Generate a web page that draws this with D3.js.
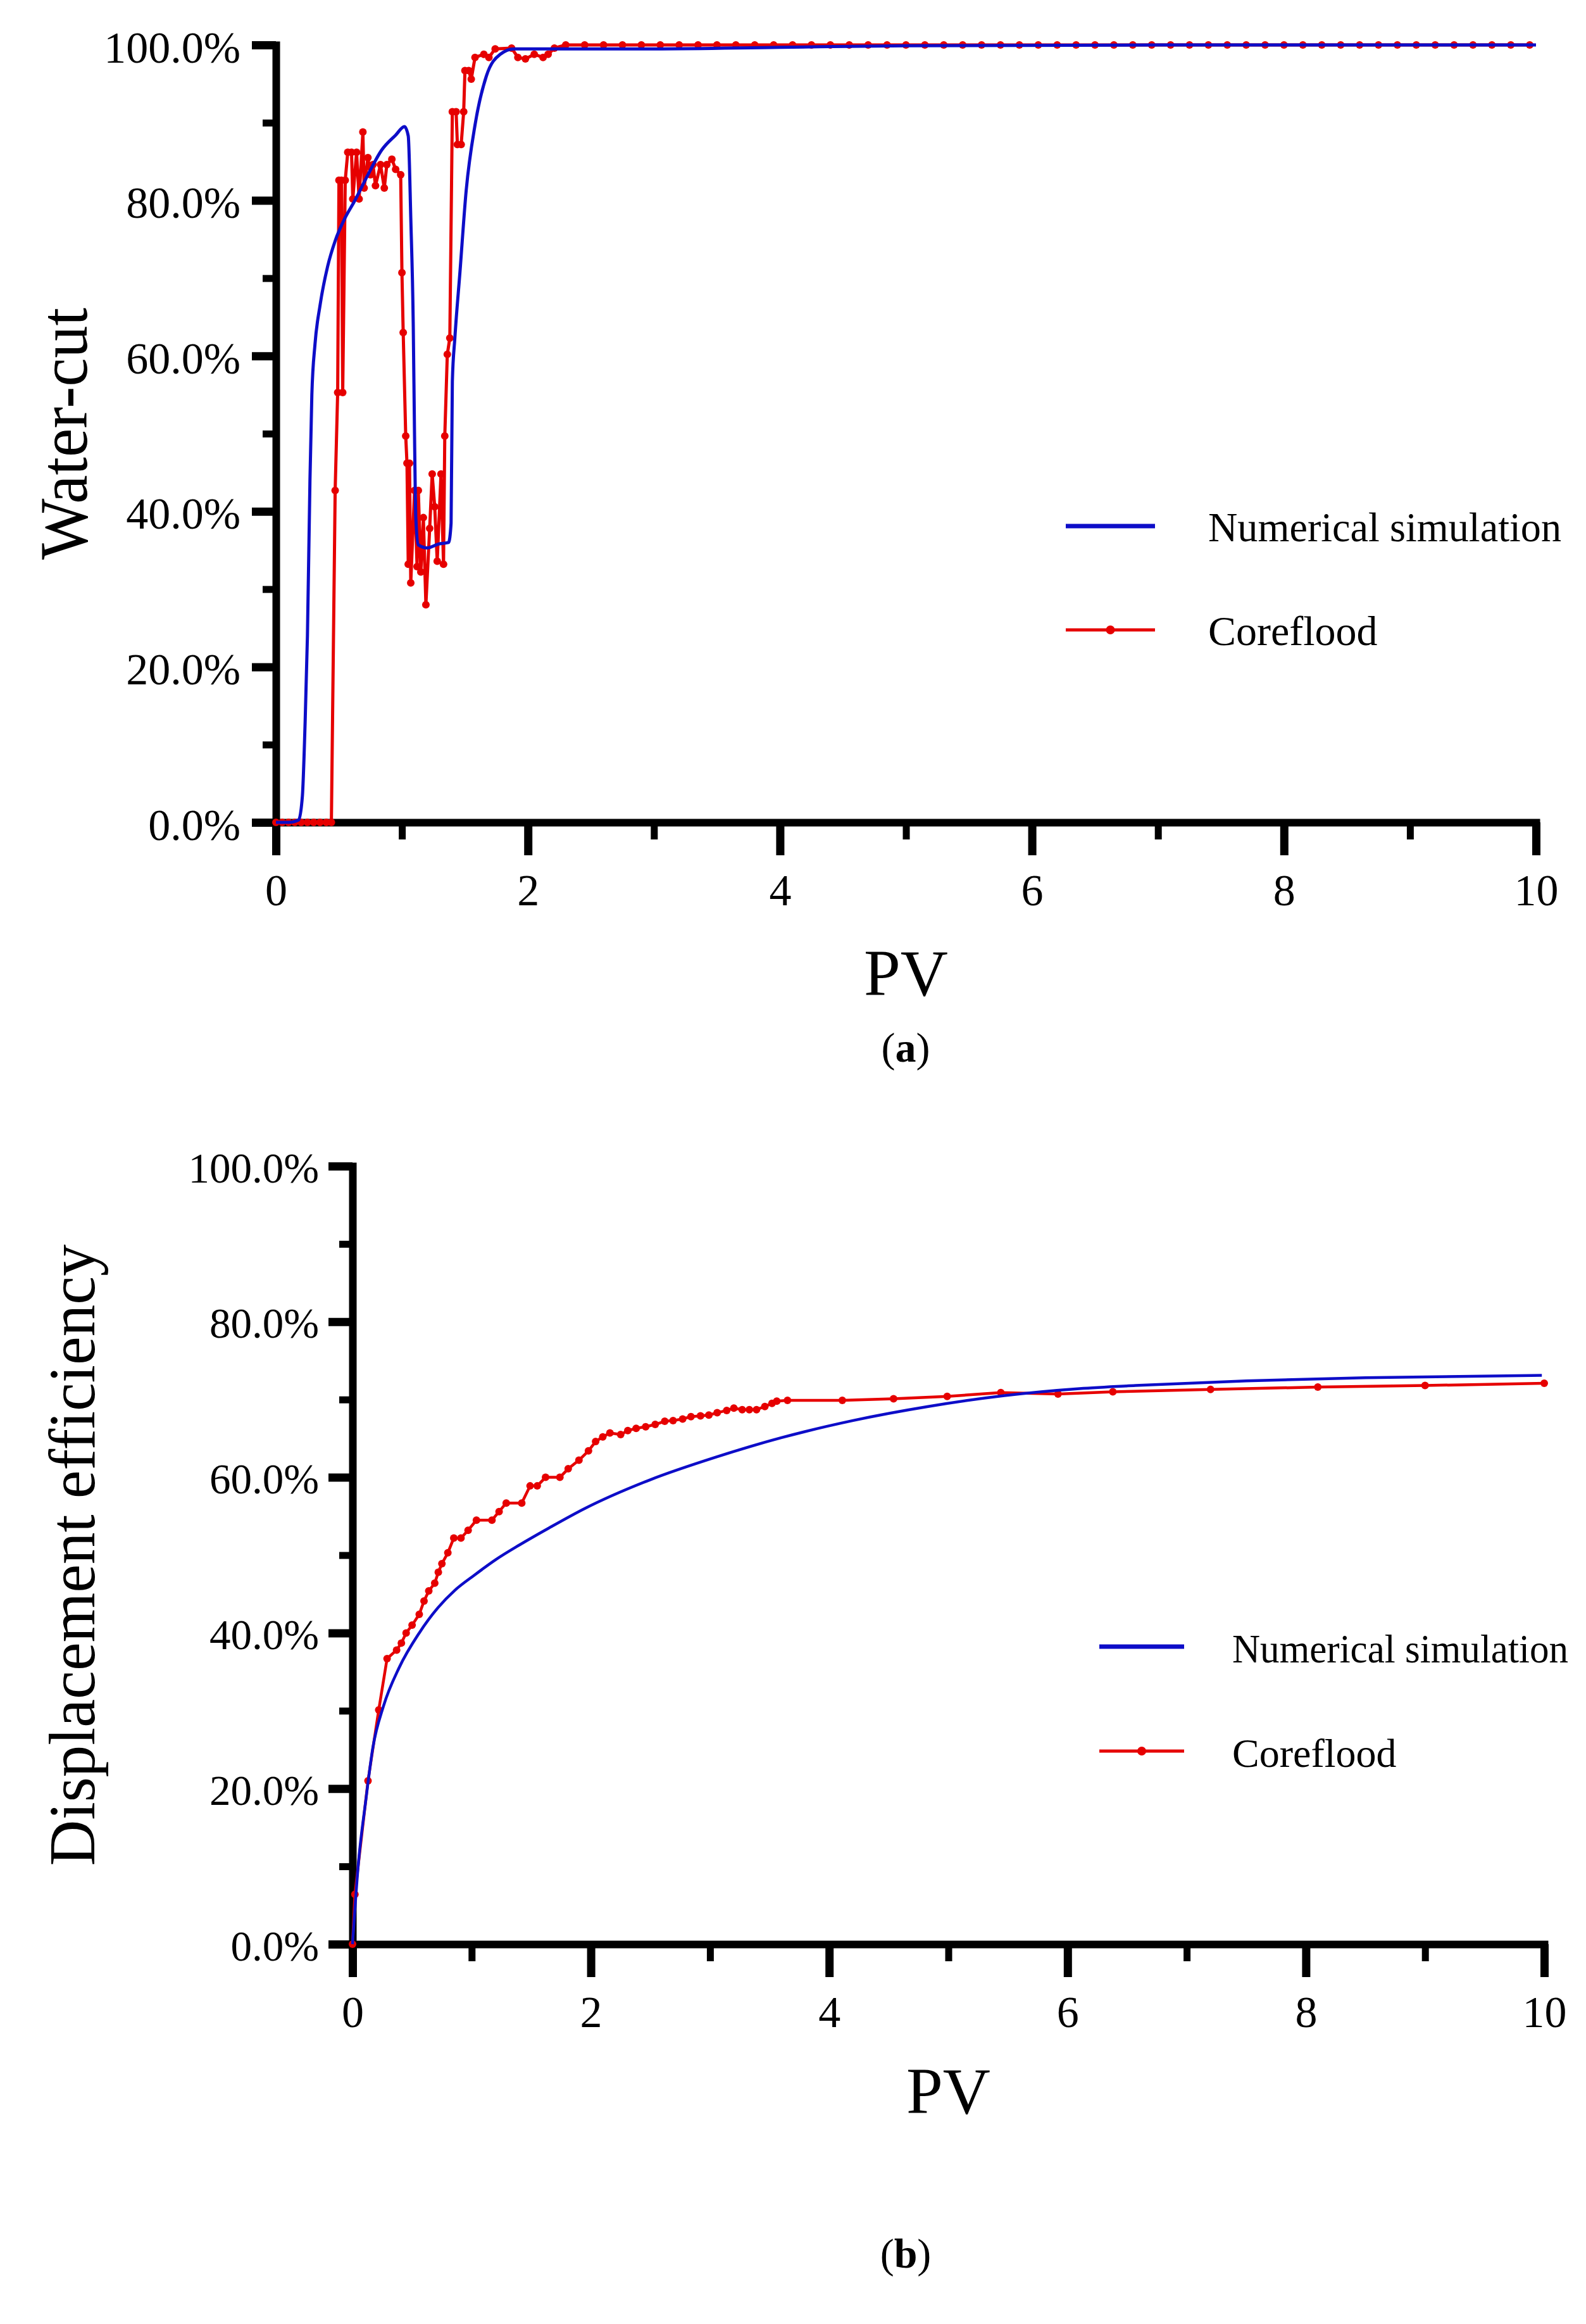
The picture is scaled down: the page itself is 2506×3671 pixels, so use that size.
<!DOCTYPE html>
<html>
<head>
<meta charset="utf-8">
<script src="https://cdn.jsdelivr.net/npm/d3@7"></script>
<style>
  body { margin: 0; background: #fff; }
  text { font-family: "Liberation Serif", "Times New Roman", serif; fill: #000; }
</style>
</head>
<body>
<script>
// ticks shared by both panels
var xMajor = [0, 2, 4, 6, 8, 10];
var xMinor = [1, 3, 5, 7, 9];
var yMajor = [0, 20, 40, 60, 80, 100];
var yMinor = [10, 30, 50, 70, 90];
var seriesNames = ["Numerical simulation", "Coreflood"];

// (a) water-cut (%) against PV
var wcSim = [[0,0],[0.10,0],[0.18,0.3],[0.21,3.4],[0.23,12],[0.25,24],[0.27,44],[0.285,55],
  [0.31,61.5],[0.35,66.5],[0.41,71.5],[0.47,74.8],[0.55,77.8],[0.62,79.8],[0.73,83.3],[0.84,86.5],[0.95,88.4],
  [1.02,89.5],[1.05,88.3],[1.07,77.8],[1.09,63.7],[1.10,49.7],[1.11,39.2],[1.13,35.7],[1.20,35.3],
  [1.29,35.8],[1.37,36.0],[1.39,38.5],[1.40,56.7],[1.42,62.3],[1.46,70.7],[1.51,81.3],[1.58,89.7],
  [1.67,96.0],[1.78,98.8],[1.89,99.5],[2.2,99.5],[3,99.5],[4,99.7],[5,99.9],[7,100],[10,100]];

var wcCore = [[0,0],[0.05,0],[0.10,0],[0.15,0],[0.20,0],[0.25,0],[0.30,0],[0.35,0],[0.40,0],[0.44,0],
  [0.47,42.7],[0.49,55.3],[0.50,82.6],[0.52,82.6],[0.53,55.3],[0.55,82.6],[0.57,86.2],[0.60,86.2],
  [0.61,80.2],[0.64,86.2],[0.66,80.2],[0.69,88.8],[0.70,81.6],[0.73,85.5],[0.75,83.3],[0.77,84.6],
  [0.79,81.9],[0.83,84.6],[0.86,81.6],[0.88,84.6],[0.92,85.3],[0.95,84.0],[0.99,83.3],[1.00,70.7],
  [1.01,63.0],[1.03,49.7],[1.04,46.2],[1.05,33.2],[1.06,46.2],[1.07,30.8],[1.10,42.7],[1.12,32.9],
  [1.13,42.7],[1.15,32.2],[1.17,39.2],[1.19,28.0],[1.22,37.8],[1.24,44.8],[1.26,40.6],[1.28,33.6],
  [1.31,44.8],[1.33,33.2],[1.34,49.7],[1.36,60.2],[1.38,62.3],[1.40,91.4],[1.43,91.4],[1.44,87.2],
  [1.47,87.2],[1.49,91.4],[1.50,96.7],[1.53,96.7],[1.55,95.6],[1.58,98.4],[1.65,98.8],[1.69,98.4],
  [1.74,99.5],[1.87,99.6],[1.92,98.4],[1.98,98.2],[2.05,98.8],[2.12,98.4],[2.16,98.8],[2.21,99.6],
  [2.30,100],[2.45,100],[2.60,100],[2.75,100],[2.90,100],[3.05,100],[3.20,100],[3.35,100],
  [3.50,100],[3.65,100],[3.80,100],[3.95,100],[4.10,100],[4.25,100],[4.40,100],[4.55,100],
  [4.70,100],[4.85,100],[5.00,100],[5.15,100],[5.30,100],[5.45,100],[5.60,100],[5.75,100],
  [5.90,100],[6.05,100],[6.20,100],[6.35,100],[6.50,100],[6.65,100],[6.80,100],[6.95,100],
  [7.10,100],[7.25,100],[7.40,100],[7.55,100],[7.70,100],[7.85,100],[8.00,100],[8.15,100],
  [8.30,100],[8.45,100],[8.60,100],[8.75,100],[8.90,100],[9.05,100],[9.20,100],[9.35,100],
  [9.50,100],[9.65,100],[9.80,100],[9.95,100]];

// (b) displacement efficiency (%) against PV
var deSim = [[0,0],[0.05,10.5],[0.11,18.3],[0.17,25.2],[0.26,30.6],[0.39,35.5],[0.56,40.0],[0.72,43.3],
  [0.86,45.5],[1.02,47.4],[1.20,49.4],[1.40,51.3],[1.65,53.5],[1.95,56.0],[2.50,59.7],[3.05,62.6],[3.60,65.1],
  [4.20,67.3],[4.83,69.1],[5.47,70.5],[6.10,71.4],[6.57,71.8],[7.5,72.4],[8.5,72.8],[9.98,73.1]];

var deCore = [[0,0],[0.02,6.4],[0.13,21.0],[0.22,30.1],[0.29,36.7],[0.37,37.8],[0.41,38.7],[0.45,40.0],
  [0.50,41.0],[0.56,42.4],[0.60,44.1],[0.64,45.4],[0.69,46.4],[0.72,47.8],[0.75,48.9],[0.80,50.3],
  [0.85,52.2],[0.91,52.2],[0.97,53.2],[1.04,54.5],[1.17,54.5],[1.23,55.6],[1.29,56.7],[1.42,56.7],
  [1.49,58.9],[1.55,58.9],[1.62,60.0],[1.74,60.0],[1.81,61.1],[1.90,62.2],[1.98,63.4],[2.04,64.6],
  [2.10,65.2],[2.16,65.7],[2.25,65.5],[2.31,66.0],[2.38,66.3],[2.46,66.5],[2.54,66.8],[2.62,67.2],
  [2.69,67.3],[2.77,67.5],[2.84,67.8],[2.92,67.9],[2.99,68.0],[3.06,68.3],[3.14,68.6],[3.20,68.9],
  [3.27,68.7],[3.33,68.7],[3.39,68.7],[3.46,69.1],[3.52,69.5],[3.56,69.8],[3.65,69.9],[4.11,69.9],
  [4.54,70.1],[4.99,70.4],[5.44,70.9],[5.92,70.7],[6.38,71.0],[7.2,71.3],[8.1,71.6],[9.0,71.8],[10.0,72.1]];

var blue = "#0d0dc8", red = "#e60000";

var svg = d3.select("body").append("svg")
    .attr("width", 2506)
    .attr("height", 3671);
svg.append("rect").attr("width", 2506).attr("height", 3671).attr("fill", "#fff");

function drawPanel(p) {
    var x = d3.scaleLinear().domain([0, 10]).range([p.x0, p.x1]);
    var y = d3.scaleLinear().domain([0, 100]).range([p.y0, p.y1]);
    var g = svg.append("g");

    // minor ticks first, no labels
    var xm = g.append("g").attr("transform", "translate(0," + p.y0 + ")")
        .call(d3.axisBottom(x).tickValues(xMinor).tickSize(27).tickSizeOuter(0).tickFormat(""));
    xm.select(".domain").remove();
    xm.selectAll(".tick line").attr("stroke-width", 11);

    var ym = g.append("g").attr("transform", "translate(" + p.x0 + ",0)")
        .call(d3.axisLeft(y).tickValues(yMinor).tickSize(21).tickSizeOuter(0).tickFormat(""));
    ym.select(".domain").remove();
    ym.selectAll(".tick line").attr("stroke-width", 11);

    // major axes
    var xa = g.append("g").attr("transform", "translate(0," + p.y0 + ")")
        .call(d3.axisBottom(x).tickValues(xMajor).tickSize(52).tickSizeOuter(0));
    xa.select(".domain").attr("stroke-width", 12).attr("stroke-linecap", "square");
    xa.selectAll(".tick line").attr("stroke-width", 13);
    xa.selectAll(".tick text").attr("font-size", 70).attr("y", 131).attr("dy", 0);

    var ya = g.append("g").attr("transform", "translate(" + p.x0 + ",0)")
        .call(d3.axisLeft(y).tickValues(yMajor).tickSize(38).tickSizeOuter(0)
            .tickFormat(function(v) { return v.toFixed(1) + "%"; }));
    ya.select(".domain").attr("stroke-width", 12).attr("stroke-linecap", "square");
    ya.selectAll(".tick line").attr("stroke-width", 13);
    ya.selectAll(".tick text").attr("font-size", p.yFont).attr("x", p.yLabelX).attr("dy", p.yLabelDy);

    // data
    var lineLin = d3.line().x(function(d) { return x(d[0]); }).y(function(d) { return y(d[1]); });
    var lineSmooth = d3.line().curve(d3.curveMonotoneX)
        .x(function(d) { return x(d[0]); }).y(function(d) { return y(d[1]); });

    g.append("path").datum(p.core)
        .attr("d", lineLin).attr("fill", "none")
        .attr("stroke", red).attr("stroke-width", p.lw).attr("stroke-linejoin", "round");
    g.selectAll(".pt").data(p.core).enter().append("circle")
        .attr("cx", function(d) { return x(d[0]); })
        .attr("cy", function(d) { return y(d[1]); })
        .attr("r", 6).attr("fill", red);
    g.append("path").datum(p.sim)
        .attr("d", lineSmooth).attr("fill", "none")
        .attr("stroke", blue).attr("stroke-width", p.lw).attr("stroke-linejoin", "round");

    // legend
    var L = p.legend;
    g.append("line").attr("x1", L.x1).attr("x2", L.x2).attr("y1", L.y[0]).attr("y2", L.y[0])
        .attr("stroke", blue).attr("stroke-width", 7);
    g.append("line").attr("x1", L.x1).attr("x2", L.x2).attr("y1", L.y[1]).attr("y2", L.y[1])
        .attr("stroke", red).attr("stroke-width", 5);
    g.append("circle").attr("cx", (L.x1 + L.x2) / 2).attr("cy", L.y[1]).attr("r", 7).attr("fill", red);
    g.append("text").attr("x", L.tx).attr("y", L.y[0] + L.base).attr("font-size", L.font)
        .attr("textLength", L.len).attr("lengthAdjust", "spacingAndGlyphs").text(seriesNames[0]);
    g.append("text").attr("x", L.tx).attr("y", L.y[1] + L.base).attr("font-size", L.font)
        .text(seriesNames[1]);

    // titles
    g.append("text")
        .attr("transform", "translate(" + p.yTitleX + "," + ((p.y0 + p.y1) / 2) + ") rotate(-90)")
        .attr("text-anchor", "middle").attr("font-size", p.yTitleFont)
        .attr("textLength", p.yTitleLen).attr("lengthAdjust", "spacingAndGlyphs")
        .text(p.yTitle);
    g.append("text").attr("x", (p.x0 + p.x1) / 2).attr("y", p.xTitleY)
        .attr("text-anchor", "middle").attr("font-size", 104).text("PV");
    var lab = g.append("text").attr("x", 1431).attr("y", p.labelY)
        .attr("text-anchor", "middle").attr("font-size", 66);
    lab.append("tspan").text("(");
    lab.append("tspan").attr("font-weight", "bold").text(p.label);
    lab.append("tspan").text(")");
}

drawPanel({
    x0: 436, x1: 2427, y0: 1299, y1: 71,
    sim: wcSim, core: wcCore, lw: 5,
    yFont: 70, yLabelX: -56, yLabelDy: 27,
    yTitle: "Water-cut", yTitleX: 137, yTitleFont: 108, yTitleLen: 398,
    xTitleY: 1572, label: "a", labelY: 1677,
    legend: { x1: 1684, x2: 1825, y: [831, 995], tx: 1909, base: 24, font: 66, len: 558 }
});

drawPanel({
    x0: 557, x1: 2440, y0: 3071, y1: 1842,
    sim: deSim, core: deCore, lw: 4.5,
    yFont: 67, yLabelX: -53, yLabelDy: 25,
    yTitle: "Displacement efficiency", yTitleX: 149, yTitleFont: 104, yTitleLen: 982,
    xTitleY: 3338, label: "b", labelY: 3582,
    legend: { x1: 1737, x2: 1871, y: [2601, 2766], tx: 1947, base: 25, font: 64, len: 531 }
});
</script>
</body>
</html>
